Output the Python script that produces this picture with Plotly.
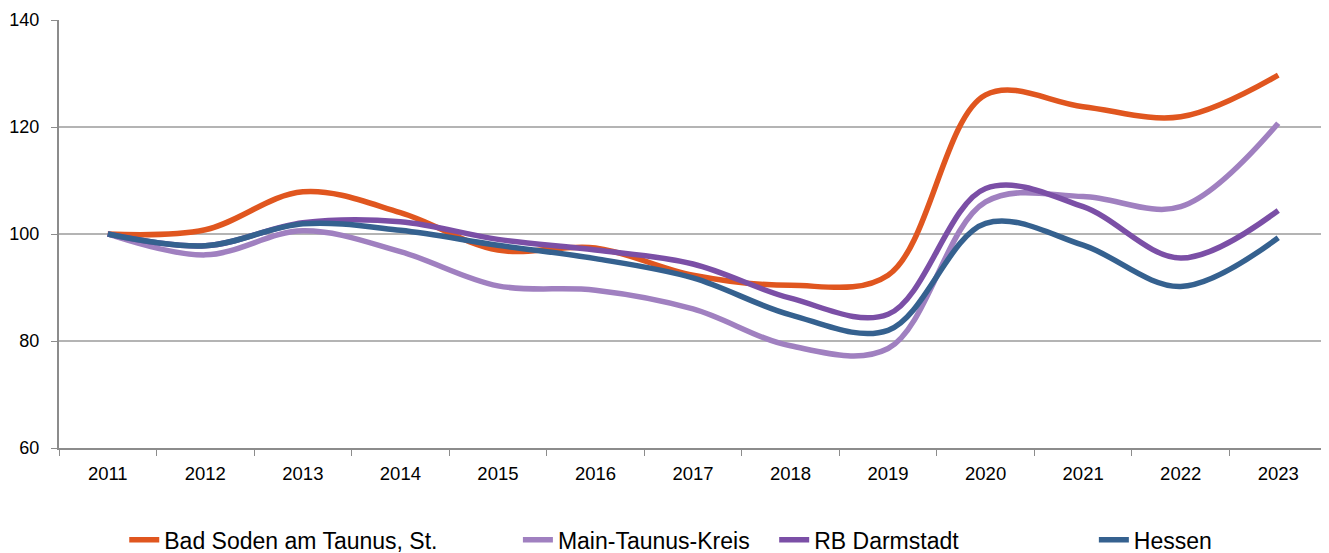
import plotly.graph_objects as go

years = [str(y) for y in range(2011, 2024)]

bad_soden = [100, 100.8, 107.9, 104.0, 97.0, 97.4, 92.3, 90.4, 92.3, 126.0, 123.8, 121.9, 129.7]
main_taunus = [100, 96.1, 100.6, 96.7, 90.3, 89.5, 86.0, 79.1, 78.6, 106.0, 107.0, 105.1, 120.7]
rb_darmstadt = [100, 97.8, 102.1, 102.3, 99.0, 97.0, 94.4, 88.0, 85.0, 108.5, 105.1, 95.5, 104.4]
hessen = [100, 97.8, 101.9, 100.7, 97.9, 95.4, 91.8, 84.9, 82.0, 102.0, 97.9, 90.2, 99.3]

series = [
    ("Bad Soden am Taunus, St.", bad_soden, "#E0561F", "legend"),
    ("Main-Taunus-Kreis", main_taunus, "#A080C0", "legend2"),
    ("RB Darmstadt", rb_darmstadt, "#7B4FA6", "legend3"),
    ("Hessen", hessen, "#35618F", "legend4"),
]

fig = go.Figure()
for name, vals, color, leg in series:
    fig.add_trace(go.Scatter(
        x=years, y=vals, name=name, mode="lines",
        line=dict(color=color, width=5.5, shape="spline", smoothing=1),
        legend=leg, showlegend=True,
    ))

font = "Liberation Sans, Arial, sans-serif"


def legend_at(x):
    return dict(
        orientation="h", xref="container", yref="container",
        x=x, y=0.024, xanchor="left", yanchor="middle",
        font=dict(size=23, color="black", family=font),
        bgcolor="rgba(0,0,0,0)", visible=True,
    )


# the page body has an 8px margin, so the figure is a bit smaller
fig.update_layout(
    width=1321, height=545,
    margin=dict(l=51, r=2, t=12, b=105),
    plot_bgcolor="white", paper_bgcolor="white",
    font=dict(family=font, color="black", size=18),
    showlegend=True,
    legend=legend_at(0.088),
    legend2=legend_at(0.386),
    legend3=legend_at(0.580),
    legend4=legend_at(0.822),
)

fig.update_xaxes(
    type="category", tickson="boundaries", ticks="outside", ticklen=6,
    tickcolor="#8c8c8c", showline=True, linecolor="#8c8c8c", linewidth=2,
    showgrid=False, tickfont=dict(size=18.5), range=[-0.5, 12.5],
    automargin=False, ticklabelstandoff=8,
)
fig.update_yaxes(
    range=[60, 140], dtick=20, ticks="outside", ticklen=6,
    tickcolor="#8c8c8c", showline=True, linecolor="#8c8c8c", linewidth=2,
    showgrid=True, gridcolor="#b4b4b4", gridwidth=1.5,
    tickfont=dict(size=18), zeroline=False,
    automargin=False, ticklabelstandoff=8,
)

fig.write_html("out.html")
